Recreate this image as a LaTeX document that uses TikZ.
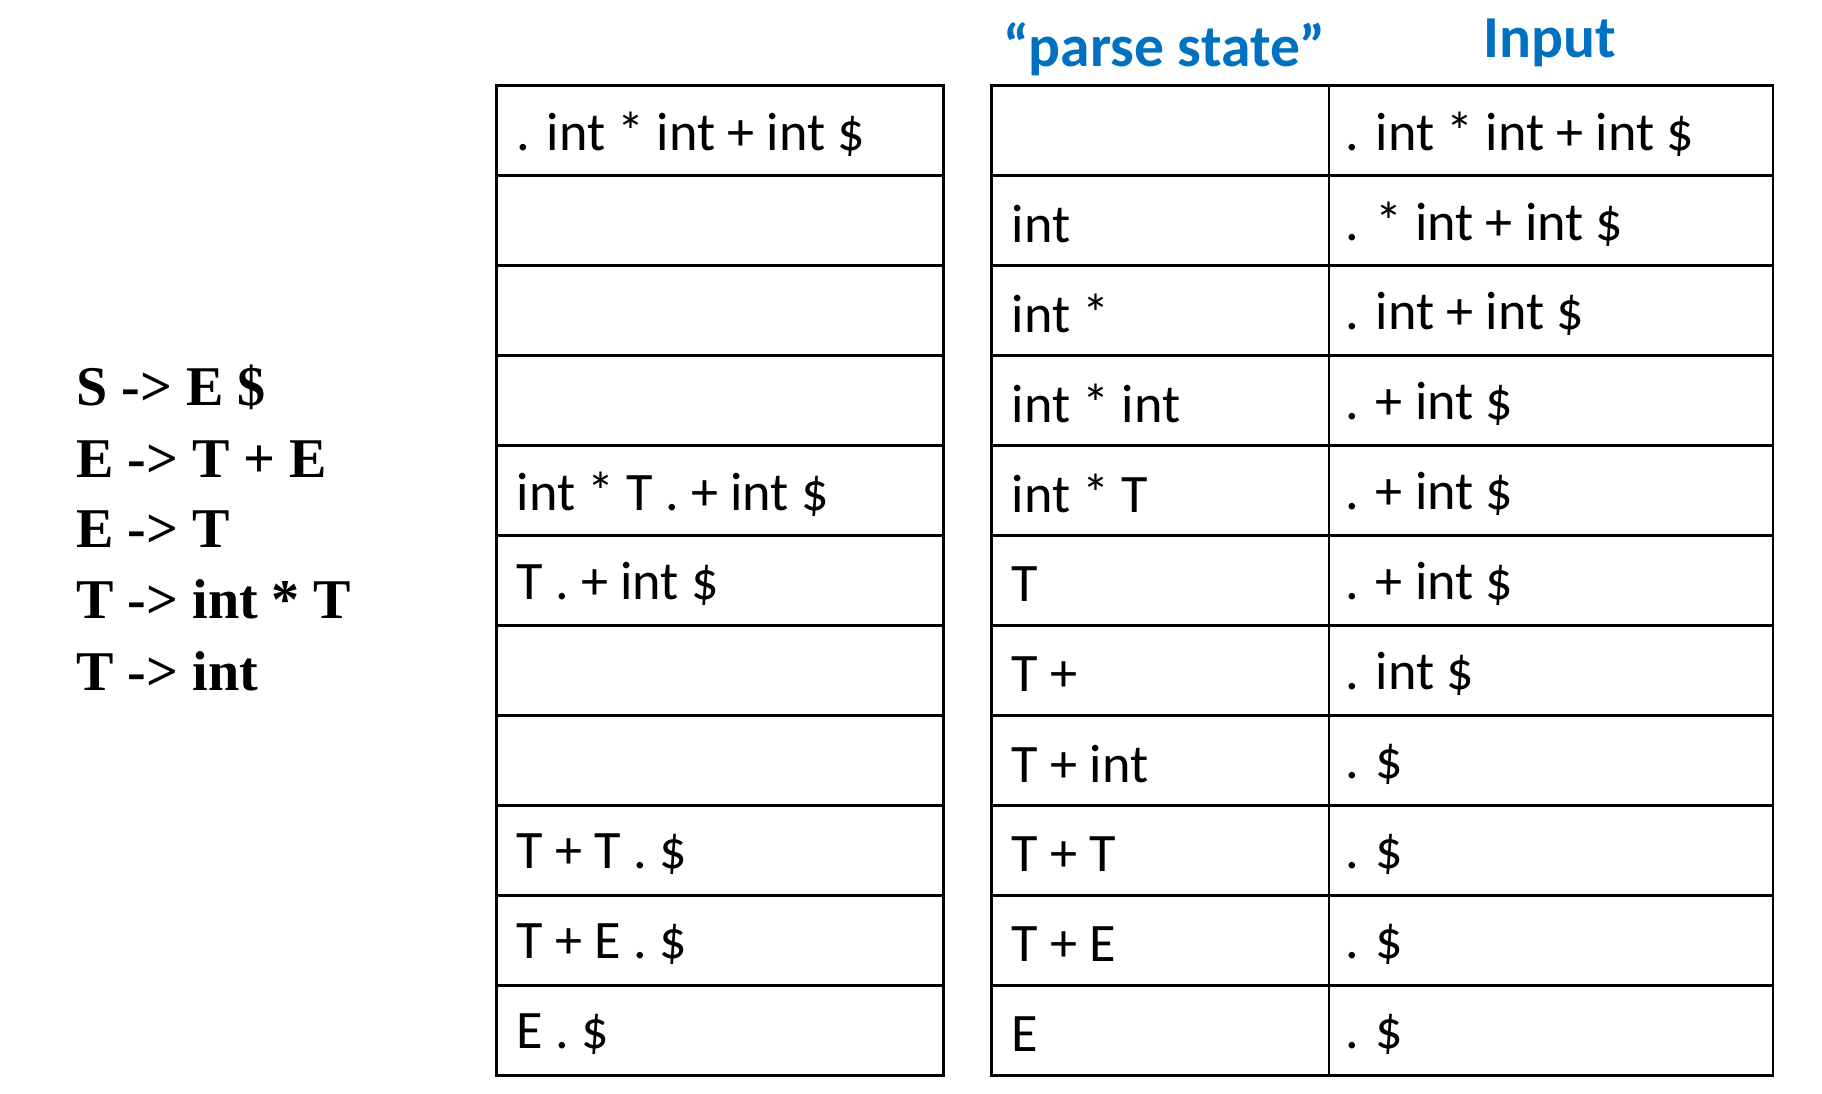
\documentclass[tikz,border=0pt]{standalone}
\usepackage{fontspec}
\setmainfont{Carlito}
\newfontfamily\gram{Liberation Serif}
\definecolor{hblue}{RGB}{0,112,192}
\begin{document}
\begin{tikzpicture}[x=0.5pt,y=-0.5pt,
  cell/.style={anchor=west,inner sep=0pt,font=\fontsize{23.2}{26}\selectfont},
  hdr/.style={font=\fontsize{25.5}{28}\selectfont\bfseries,text=hblue},
  gr/.style={anchor=west,inner sep=0pt,font=\gram\bfseries\fontsize{24}{27}\selectfont},
  grid/.style={line width=1.1pt}]
\useasboundingbox (0,0) rectangle (1560,936);
\def\rh{77.09}
\draw[grid] (425,73) rectangle (808,921);
\draw[grid] (849,73) rectangle (1518,921);
\draw[grid] (1138,73) -- (1138,921);
\foreach \i in {1,...,10}{
  \draw[grid] (425,73+\i*\rh) -- (808,73+\i*\rh);
  \draw[grid] (849,73+\i*\rh) -- (1518,73+\i*\rh);
}
\def\ry#1{73+#1*\rh-\rh/2+3}
\foreach \i/\t in {1/{. int * int + int \$},5/{int * T . + int \$},6/{T . + int \$},9/{T + T . \$},10/{T + E . \$},11/{E . \$}}
  \node[cell] (a\i) at (442,\ry{\i}) {\t};
\foreach \i/\t in {2/int,3/{int *},4/{int * int},5/{int * T},6/T,7/{T +},8/{T + int},9/{T + T},10/{T + E},11/E}
  \node[cell] (b\i) at (866,\ry{\i}) {\t};
\foreach \i/\t in {1/{. int * int + int \$},2/{. * int + int \$},3/{. int + int \$},4/{. + int \$},5/{. + int \$},6/{ . + int \$},7/{. int \$},8/{ . \$},9/{ . \$},10/{ . \$},11/{ . \$}}
  \node[cell] (c\i) at (1152,\ry{\i}) {\t};
\node[hdr] (h1) at (997,42) {“parse state”};
\node[hdr] (h2) at (1327,37) {Input};
\foreach \i/\t/\y in {1/{S -> E \$}/332,2/{E -> T + E}/393,3/{E -> T}/453,4/{T -> int * T}/513,5/{T -> int}/575}
  \node[gr] (g\i) at (65,\y) {\t};
\end{tikzpicture}
\end{document}
